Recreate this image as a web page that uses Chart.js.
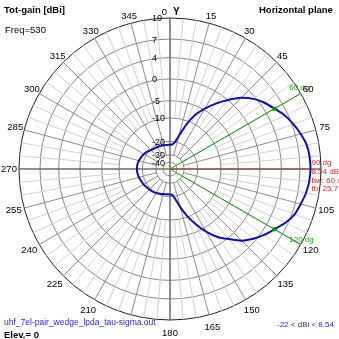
<!DOCTYPE html>
<html>
<head>
<meta charset="utf-8">
<script src="https://cdn.jsdelivr.net/npm/chart.js@4.4.1/dist/chart.umd.min.js"></script>
<style>
  html, body { margin: 0; padding: 0; background: #fff; }
  canvas { display: block; }
</style>
</head>
<body>
<canvas id="patternChart" width="339" height="339"></canvas>
<script>
// azimuth of each sample, degrees (0 = Y axis, clockwise)
const angles = [
  0, 5, 10, 15, 20, 25, 30, 35, 40, 45, 50, 55,
  60, 65, 70, 75, 80, 85, 90, 95, 100, 105, 110, 115,
  120, 125, 130, 135, 140, 145, 150, 155, 160, 165, 170, 175,
  180, 185, 190, 195, 200, 205, 210, 215, 220, 225, 230, 235,
  240, 245, 250, 255, 260, 265, 270, 275, 280, 285, 290, 295,
  300, 305, 310, 315, 320, 325, 330, 335, 340, 345, 350, 355
];

// total gain, dBi
const gainDbi = [
  -22.0, -21.8, -20.4, -16.6, -11.4, -7.3, -4.6, -2.2, 0.0, 2.1, 3.6, 4.7,
  5.54, 6.5, 7.2, 7.8, 8.3, 8.5, 8.54, 8.45, 8.2, 7.8, 7.4, 6.6,
  5.54, 4.6, 3.5, 2.2, 0.3, -1.5, -4.0, -7.0, -10.4, -14.3, -18.5, -21.0,
  -21.3, -21.3, -21.2, -21.0, -20.6, -20.3, -20.0, -19.7, -19.4, -19.2, -19.0, -18.7,
  -18.4, -18.2, -17.9, -17.6, -17.4, -17.2, -17.16, -17.2, -17.3, -17.6, -18.0, -18.3,
  -18.7, -19.2, -19.8, -20.5, -20.9, -21.2, -21.4, -21.5, -21.6, -21.8, -22.0, -22.0
];

// rings of the gain scale, dBi
const ringDbi = [10, 7, 4, 0, -5, -10, -20, -30, -40];

// azimuths that carry a number on the rim
const angleLabels = [0, 15, 30, 45, 60, 75, 105, 120, 135, 150, 165, 180,
  210, 225, 240, 255, 270, 285, 300, 315, 330, 345];

// pattern summary
const beamEdges = [60, 120];
const peakAngle = 90;
const beamwidth = 60;
const frontToBack = 25.7;
const freqMHz = 530;
const elevation = 0;
const fileName = 'uhf_7el-pair_wedge_lpda_tau-sigma.out';

// compressed log scale: 10 dBi on the rim, -40 dBi close to the centre
function toRadius(db) {
  const d = 10 - db;
  return Math.pow(10, -(0.0214 * d + 0.000106 * d * d));
}

const FONT = '"Liberation Sans", Arial, sans-serif';

const polarDecor = {
  id: 'polarDecor',
  beforeDatasetsDraw(chart) {
    const ctx = chart.ctx;
    const scale = chart.scales.r;
    const c = { x: scale.xCenter, y: scale.yCenter };
    ctx.save();
    angles.forEach((a, i) => {
      let from = 0, color = '#d0d0d0', width = 1;
      if (a % 90 === 0) {
        color = '#6c6c6c'; width = 1.5;
      } else if (a % 15 === 0) {
        from = toRadius(-30); color = '#8c8c8c';
      } else {
        from = toRadius(-10);
      }
      const p0 = from === 0 ? c : scale.getPointPositionForValue(i, from);
      const p1 = scale.getPointPositionForValue(i, 1);
      ctx.strokeStyle = color;
      ctx.lineWidth = width;
      ctx.beginPath();
      ctx.moveTo(p0.x, p0.y);
      ctx.lineTo(p1.x, p1.y);
      ctx.stroke();
    });
    ctx.restore();
  },
  afterDatasetsDraw(chart) {
    const ctx = chart.ctx;
    const scale = chart.scales.r;
    const R = scale.drawingArea;
    const cx = scale.xCenter, cy = scale.yCenter;
    ctx.save();

    // -3 dB beam edges
    beamEdges.forEach(a => {
      const i = angles.indexOf(a);
      const end = scale.getPointPositionForValue(i, 1);
      ctx.strokeStyle = '#22a022';
      ctx.lineWidth = 1;
      ctx.beginPath();
      ctx.moveTo(cx, cy);
      ctx.lineTo(end.x, end.y);
      ctx.stroke();
      const hit = scale.getPointPositionForValue(i, toRadius(gainDbi[i]));
      ctx.fillStyle = '#109010';
      ctx.beginPath();
      ctx.arc(hit.x, hit.y, 2.2, 0, Math.PI * 2);
      ctx.fill();
      const tag = scale.getPointPositionForValue(i, 0.95);
      ctx.font = '8px ' + FONT;
      ctx.fillStyle = '#22a022';
      ctx.textAlign = 'left';
      ctx.textBaseline = a < 90 ? 'bottom' : 'top';
      ctx.fillText(a + ' dg', tag.x - 5, tag.y - 5);
    });

    // maximum direction
    const pi = angles.indexOf(peakAngle);
    const peakGain = Math.max(...gainDbi);
    const peak = scale.getPointPositionForValue(pi, toRadius(peakGain));
    ctx.strokeStyle = '#b84040';
    ctx.lineWidth = 1;
    ctx.beginPath();
    ctx.moveTo(cx, cy);
    ctx.lineTo(peak.x, peak.y);
    ctx.stroke();
    ctx.font = '8px ' + FONT;
    ctx.fillStyle = '#e02828';
    ctx.textAlign = 'left';
    ctx.textBaseline = 'middle';
    const tx = peak.x + 1;
    ctx.fillText(peakAngle + ' dg', tx, cy - 6);
    ctx.fillText(peakGain.toFixed(2) + ' dB', tx, cy + 3);
    ctx.fillText('bw: ' + beamwidth + ' dg', tx, cy + 11.5);
    ctx.fillText('fb: ' + frontToBack.toFixed(1) + ' dB', tx, cy + 20);

    // ring values along the Y axis
    ctx.font = '9px ' + FONT;
    ctx.fillStyle = '#000';
    ctx.textAlign = 'left';
    ctx.textBaseline = 'middle';
    ringDbi.forEach(db => {
      const d = scale.getDistanceFromCenterForValue(toRadius(db));
      ctx.fillText(String(db), cx - 18, cy - d + 1);
    });

    // azimuth numbers round the rim
    ctx.font = '9.5px ' + FONT;
    ctx.textAlign = 'center';
    angleLabels.forEach(a => {
      const t = a * Math.PI / 180;
      const p = scale.getPointPosition(angles.indexOf(a), R + 10 - 3 * Math.cos(t));
      if (a === 0) {
        ctx.textAlign = 'right';
        ctx.fillText('0', cx - 3, p.y + 1);
        ctx.textAlign = 'left';
        ctx.font = 'bold 10px ' + FONT;
        ctx.fillText('Y', cx + 3, p.y + 1);
        ctx.font = '9.5px ' + FONT;
        ctx.textAlign = 'center';
      } else {
        ctx.fillText(String(a), p.x, p.y);
      }
    });

    // captions
    const minGain = Math.min(...gainDbi);
    ctx.textBaseline = 'alphabetic';
    ctx.textAlign = 'left';
    ctx.fillStyle = '#000';
    ctx.font = 'bold 9.5px ' + FONT;
    ctx.fillText('Tot-gain [dBi]', 4, 13);
    ctx.fillText('Horizontal plane', 259, 13);
    ctx.fillText('Elev.= ' + elevation, 4, 338);
    ctx.font = '9.5px ' + FONT;
    ctx.fillText('Freq=' + freqMHz, 5, 33);
    ctx.fillStyle = '#2a2ac8';
    ctx.font = '8.5px ' + FONT;
    ctx.fillText(fileName, 4, 325);
    ctx.font = '8px ' + FONT;
    ctx.fillText(Math.round(minGain) + ' < dBi < ' + peakGain.toFixed(2), 277, 327);
    ctx.restore();
  }
};

new Chart(document.getElementById('patternChart').getContext('2d'), {
  type: 'radar',
  data: {
    labels: angles,
    datasets: [{
      data: gainDbi.map(toRadius),
      borderColor: '#10109e',
      borderWidth: 2,
      pointRadius: 0,
      fill: false,
      tension: 0.2
    }]
  },
  options: {
    responsive: false,
    animation: false,
    devicePixelRatio: 1,
    layout: { padding: { left: 19, right: 18, top: 18, bottom: 19 } },
    plugins: {
      legend: { display: false },
      tooltip: { enabled: false }
    },
    scales: {
      r: {
        min: 0,
        max: 1,
        afterBuildTicks: scale => {
          scale.ticks = [0, ...ringDbi.map(toRadius).reverse()].map(v => ({ value: v }));
        },
        ticks: { display: false },
        pointLabels: { display: false },
        angleLines: { display: false },
        grid: {
          circular: true,
          color: c => c.index === ringDbi.length ? '#1e1e1e' : '#858585',
          lineWidth: 1
        }
      }
    }
  },
  plugins: [polarDecor]
});
</script>
</body>
</html>
